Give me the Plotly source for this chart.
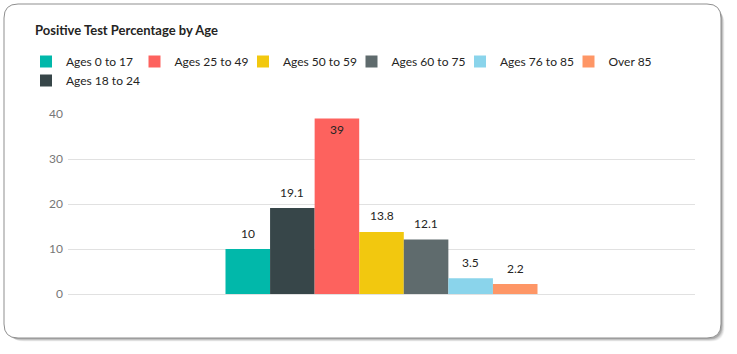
import plotly.graph_objects as go

# ---- data ----
series_names = ["Ages 0 to 17", "Ages 18 to 24", "Ages 25 to 49", "Ages 50 to 59",
                "Ages 60 to 75", "Ages 76 to 85", "Over 85"]
values = [10, 19.1, 39, 13.8, 12.1, 3.5, 2.2]
legend_ranks = [1, 7, 2, 3, 4, 5, 6]
colors = ["#01B8AA", "#374649", "#FD625E", "#F2C80F", "#5F6B6D", "#8AD4EB", "#FE9666"]
y_ticks = [0, 10, 20, 30, 40]
category = ["Positive Test Percentage"]

W, H = 737, 354
L, R, T, B = 68, 42, 114, 60
PW, PH = W - L - R, H - T - B
FONT = "Segoe UI, Lato, sans-serif"
BARGAP = 0.5024
Y_MAX = 40


def px(x):
    return (x - L) / PW


def py(y):
    return (H - B - y) / PH


def rounded_path(x0, y0, x1, y1, r):
    # pixel coords -> paper coords, quadratic corners
    pts = [
        f"M{px(x0 + r)},{py(y0)}",
        f"L{px(x1 - r)},{py(y0)}",
        f"Q{px(x1)},{py(y0)} {px(x1)},{py(y0 + r)}",
        f"L{px(x1)},{py(y1 - r)}",
        f"Q{px(x1)},{py(y1)} {px(x1 - r)},{py(y1)}",
        f"L{px(x0 + r)},{py(y1)}",
        f"Q{px(x0)},{py(y1)} {px(x0)},{py(y1 - r)}",
        f"L{px(x0)},{py(y0 + r)}",
        f"Q{px(x0)},{py(y0)} {px(x0 + r)},{py(y0)}",
        "Z",
    ]
    return " ".join(pts)


n = len(values)
bar_px = PW * (1 - BARGAP) / n  # width of one bar in the group, pixels

fig = go.Figure()
annotations = []
for i, (name, val, col, rank) in enumerate(zip(series_names, values, colors, legend_ranks)):
    inside = val > 0.85 * Y_MAX
    fig.add_trace(go.Bar(
        x=category, y=[val], name=name, marker_color=col, marker_line_width=0,
        text=[f"{val:g}"] if inside else None,
        textposition="inside" if inside else "none",
        insidetextanchor="end", textangle=0,
        insidetextfont=dict(family=FONT, size=12, color="#252423"),
        cliponaxis=False, legendrank=rank, hoverinfo="name+y",
    ))
    if not inside:
        annotations.append(dict(
            x=category[0], y=val, xref="x", yref="y", text=f"{val:g}", showarrow=False,
            xanchor="center", yanchor="middle", yshift=16,
            xshift=(i - (n - 1) / 2) * bar_px,
            font=dict(family=FONT, size=12, color="#252423"),
        ))

shapes = []
# shadow
for k, a in [(6, 0.04), (5, 0.05), (4, 0.07), (3, 0.09), (2, 0.12)]:
    shapes.append(dict(type="path", xref="paper", yref="paper", layer="below",
                       path=rounded_path(4 + k, 4 + k, 721 + k * 0.6, 338 + k * 0.6, 14),
                       fillcolor=f"rgba(0,0,0,{a})", line=dict(width=0)))
shapes.append(dict(type="path", xref="paper", yref="paper", layer="below",
                   path=rounded_path(4, 4, 721, 338, 14),
                   fillcolor="white", line=dict(color="#8f8f8f", width=1)))

fig.update_layout(
    width=W, height=H,
    margin=dict(l=L, r=R, t=T, b=B, autoexpand=False),
    paper_bgcolor="white", plot_bgcolor="rgba(0,0,0,0)",
    barmode="group", bargap=BARGAP, bargroupgap=0,
    font=dict(family=FONT, size=12, color="#252423"),
    title=dict(text="<b>Positive Test Percentage by Age</b>", x=35 / W, xanchor="left", xref="container",
               y=1 - 30 / H, yanchor="middle", yref="container",
               font=dict(family=FONT, size=13, color="#252423")),
    showlegend=True,
    legend=dict(orientation="h", x=px(26), xanchor="left", y=py(47), yanchor="top",
                entrywidth=63.5, entrywidthmode="pixels", traceorder="normal",
                font=dict(family=FONT, size=12, color="#252423"),
                bgcolor="rgba(0,0,0,0)", itemclick=False, itemdoubleclick=False,
                tracegroupgap=0),
    shapes=shapes,
    annotations=annotations,
    xaxis=dict(showticklabels=False, showgrid=False, zeroline=False, showline=False,
               fixedrange=True),
    yaxis=dict(range=[0, Y_MAX], tickvals=y_ticks, showgrid=True, gridcolor="#E1E1E1", gridwidth=1,
               zeroline=True, zerolinecolor="#E1E1E1", zerolinewidth=1, showline=False,
               tickfont=dict(family=FONT, size=12, color="#777777"),
               ticklabelstandoff=4, fixedrange=True),
)

fig.write_html("out.html")
